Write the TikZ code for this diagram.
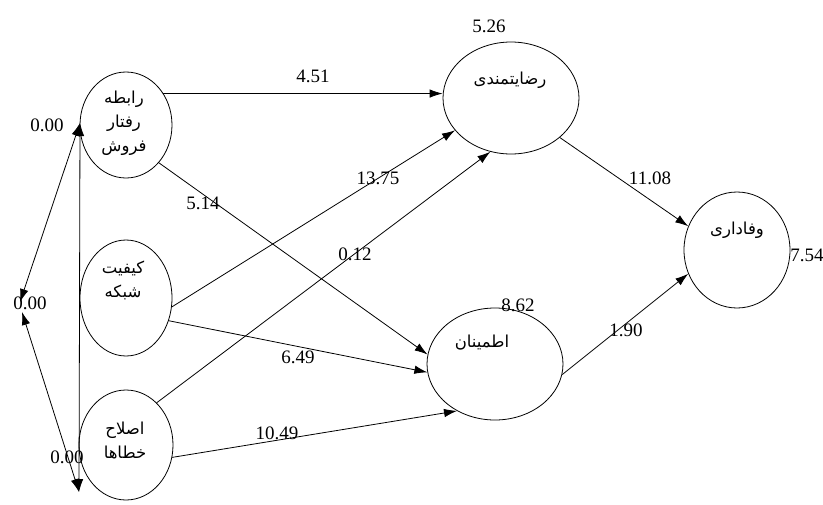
\documentclass[tikz,border=0pt]{standalone}
\usepackage{fontspec}
\setmainfont{Liberation Serif}
\newfontfamily\fa[Script=Arabic]{DejaVu Sans}
\TeXXeTstate=1
\usetikzlibrary{shapes.geometric,arrows.meta}
\begin{document}
\begin{tikzpicture}[x=1pt,y=-1pt,
  ell/.style={draw, ellipse, inner sep=0pt, line width=0.8pt},
  fatext/.style={font=\fa\fontsize{16.5}{24}\selectfont, align=center, inner sep=0pt},
  num/.style={font=\fontsize{19}{20}\selectfont, inner sep=0pt},
  conn/.style={line width=0.8pt, -{Latex[length=13pt,width=8.5pt]}},
  corr/.style={line width=0.8pt, {Latex[length=13pt,width=8.5pt]}-{Latex[length=13pt,width=8.5pt]}}]
\useasboundingbox (0,0) rectangle (823,504);
% constructs
\node[ell, minimum width=92pt, minimum height=106pt] (A) at (126,125) {};
\node[ell, minimum width=92pt, minimum height=116pt] (Q) at (126,298) {};
\node[ell, minimum width=94pt, minimum height=110pt] (E) at (126,445) {};
\node[ell, minimum width=136pt, minimum height=112pt] (S) at (511,98) {};
\node[ell, minimum width=136pt, minimum height=112pt] (T) at (495,364) {};
\node[ell, minimum width=106pt, minimum height=116pt] (L) at (737,250) {};
% construct names
\node[fatext] (tA) at (124,123) {\beginR رابطه\endR\\\beginR رفتار\endR\\\beginR فروش\endR};
\node[fatext] (tQ) at (123,280) {\beginR کیفیت\endR\\\beginR شبکه\endR};
\node[fatext] (tE) at (125,440) {\beginR اصلاح\endR\\\beginR خطاها\endR};
\node[fatext] (tS) at (510,80) {\beginR رضایتمندی\endR};
\node[fatext] (tT) at (482,343) {\beginR اطمینان\endR};
\node[fatext] (tL) at (737,230) {\beginR وفاداری\endR};
% free ends of correlations
\coordinate (a1) at (80,123);
\coordinate (m1) at (20,302);
\coordinate (m2) at (22,312);
\coordinate (e1) at (79,492);
% paths
\draw[conn] (A.40) -- (A.40 -| S.west);
\draw[conn] (A.-49) -- (T.172);
\draw[conn] (Q.-11) -- (S.-150);
\draw[conn] (Q.-28) -- (T.187);
\draw[conn] (E.54) -- (S.249);
\draw[conn] (E.-15) -- (T.231);
\draw[conn] (S.-39) -- (L.154);
\draw[conn] (T.-9) -- (L.206);
\draw[corr] (a1) -- (m1);
\draw[corr] (m2) -- (e1);
\draw[corr] (a1) -- (e1);
% numbers
\node[num] (n1) at (313,76) {4.51};
\node[num] (n2) at (378,178) {13.75};
\node[num] (n3) at (203,203) {5.14};
\node[num] (n4) at (355,254) {0.12};
\node[num] (n5) at (298,357) {6.49};
\node[num] (n6) at (277,433) {10.49};
\node[num] (n7) at (489,26) {5.26};
\node[num] (n8) at (518,305) {8.62};
\node[num] (n9) at (807,255) {7.54};
\node[num] (n10) at (650,178) {11.08};
\node[num] (n11) at (626,330) {1.90};
\node[num] (n12) at (47,125) {0.00};
\node[num] (n13) at (30,303) {0.00};
\node[num] (n14) at (67,457) {0.00};
\end{tikzpicture}
\end{document}
